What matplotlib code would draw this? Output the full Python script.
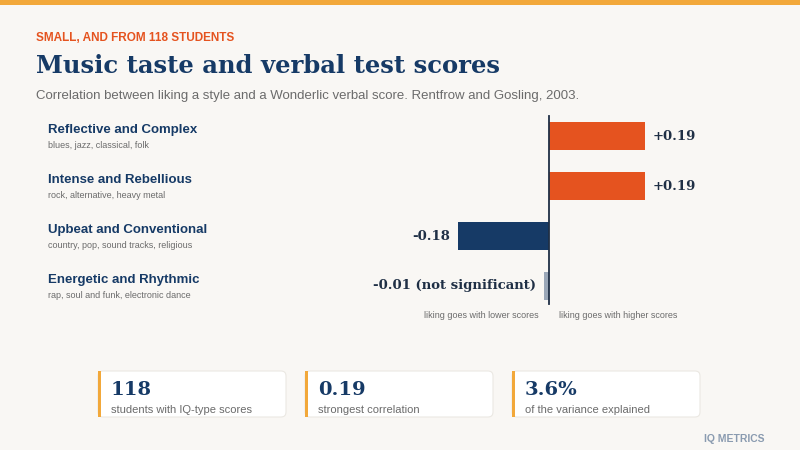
import matplotlib.pyplot as plt
from matplotlib.patches import FancyBboxPatch, Rectangle

categories = ["Reflective and Complex", "Intense and Rebellious",
              "Upbeat and Conventional", "Energetic and Rhythmic"]
genres = ["blues, jazz, classical, folk", "rock, alternative, heavy metal",
          "country, pop, sound tracks, religious", "rap, soul and funk, electronic dance"]
correlations = [0.19, 0.19, -0.18, -0.01]
value_labels = ["+0.19", "+0.19", "-0.18", "-0.01 (not significant)"]
stat_values = ["118", "0.19", "3.6%"]
stat_labels = ["students with IQ-type scores", "strongest correlation", "of the variance explained"]

BG = "#f9f7f4"
NAVY = "#163a66"
ORANGE = "#e5531f"
GOLD = "#f2a83a"
GREY = "#6b6b6b"
SERIF = "DejaVu Serif"
SANS = "Liberation Sans"

fig = plt.figure(figsize=(8, 4.5), dpi=100, facecolor=BG)

# overlay in pixel coordinates
ov = fig.add_axes([0, 0, 1, 1])
ov.set_xlim(0, 800)
ov.set_ylim(450, 0)
ov.axis("off")
ov.add_patch(Rectangle((0, 0), 800, 5, color=GOLD, lw=0))

ov.text(36, 38, "SMALL, AND FROM 118 STUDENTS", color=ORANGE, fontsize=8.5,
        fontweight="bold", family=SANS, va="center")
ov.text(36, 66, "Music taste and verbal test scores", color=NAVY, fontsize=17.5,
        fontweight="bold", family=SERIF, va="center")
ov.text(36, 96, "Correlation between liking a style and a Wonderlic verbal score. Rentfrow and Gosling, 2003.",
        color=GREY, fontsize=9.5, family=SANS, va="center")

for i, (cat, gen) in enumerate(zip(categories, genres)):
    y = 130 + 50 * i
    ov.text(48, y, cat, color=NAVY, fontsize=9.5, fontweight="bold", family=SANS, va="center")
    ov.text(48, y + 15, gen, color=GREY, fontsize=6.5, family=SANS, va="center")

# bar axes
ax = fig.add_axes([360 / 800, 1 - 310 / 450, 340 / 800, 200 / 450])
ax.set_facecolor("none")
ax.set_xlim((360 - 549) / 505, (700 - 549) / 505)
ax.set_ylim(3.48, -0.52)
ax.axis("off")
colors = []
for v in correlations:
    if abs(v) < 0.05:
        colors.append("#9aa7b8")
    elif v > 0:
        colors.append(ORANGE)
    else:
        colors.append(NAVY)
ax.barh(range(len(correlations)), correlations, height=0.56, color=colors)
ax.axvline(0, color="#1f2f45", lw=1.3, ymin=0.03, ymax=0.97)
for i, (v, lab) in enumerate(zip(correlations, value_labels)):
    if v > 0:
        ax.text(v + 0.015, i, lab, ha="left", va="center", fontsize=9.5,
                fontweight="bold", family=SERIF, color="#1f2f45")
    else:
        ax.text(v - 0.015, i, lab, ha="right", va="center", fontsize=9.5,
                fontweight="bold", family=SERIF, color="#1f2f45")
ax.text(-0.02, 3.6, "liking goes with lower scores", ha="right", va="center",
        fontsize=6.5, color=GREY, family=SANS, clip_on=False)
ax.text(0.02, 3.6, "liking goes with higher scores", ha="left", va="center",
        fontsize=6.5, color=GREY, family=SANS, clip_on=False)

# stat cards
for k, (val, lab) in enumerate(zip(stat_values, stat_labels)):
    x0 = 98 + 207 * k
    ov.add_patch(FancyBboxPatch((x0, 371), 188, 46, boxstyle="round,pad=0,rounding_size=5",
                                fc="white", ec="#ebe8e3", lw=0.8))
    ov.add_patch(Rectangle((x0, 371), 3, 46, color=GOLD, lw=0))
    ov.text(x0 + 13, 390, val, color=NAVY, fontsize=14, fontweight="bold",
            family=SERIF, va="center")
    ov.text(x0 + 13, 410, lab, color=GREY, fontsize=8, family=SANS, va="center")

ov.text(764, 439, "IQ METRICS", color="#8a9bb0", fontsize=7.5, fontweight="bold",
        family=SANS, ha="right", va="center")

fig.savefig("out.png", dpi=100, facecolor=BG)
